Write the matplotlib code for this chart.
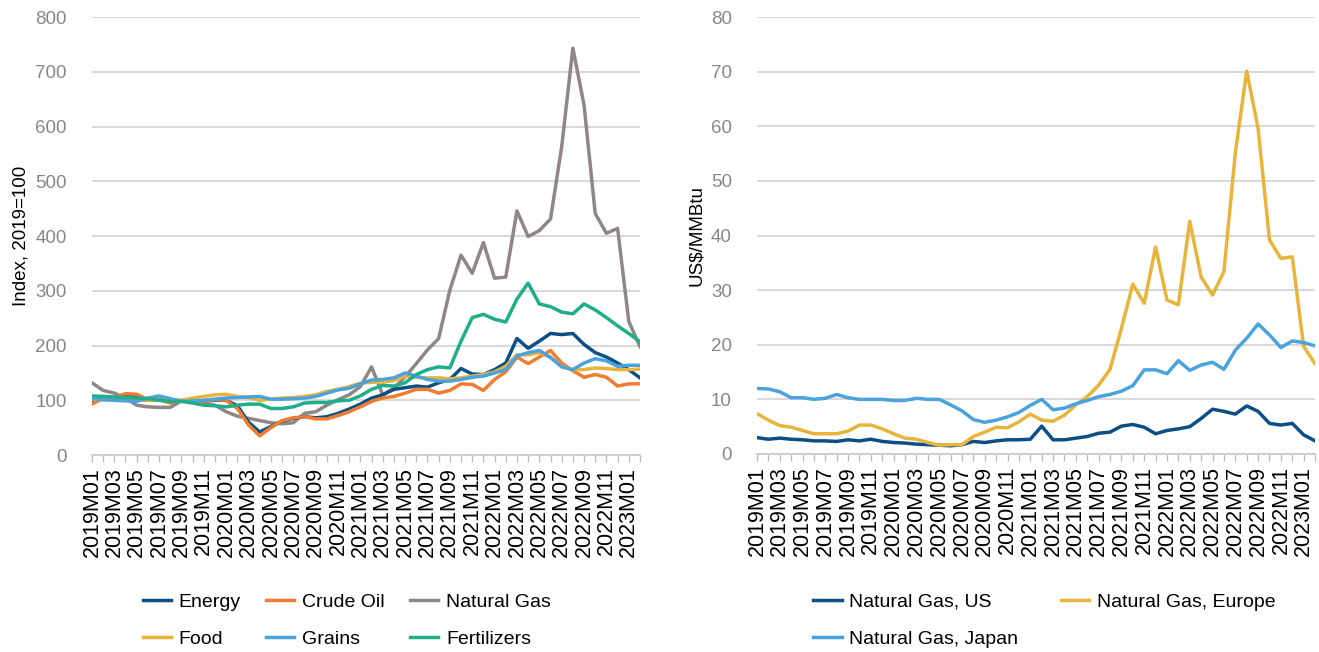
import numpy as np
import matplotlib
matplotlib.use("Agg")
import matplotlib.pyplot as plt

plt.rcParams['font.family'] = ['Liberation Sans', 'DejaVu Sans']

# monthly categories 2019M01 .. 2023M02
months = [f"{y}M{m:02d}" for y in range(2019, 2024) for m in range(1, 13)][:50]

# left panel: index, 2019=100
energy = [100, 103, 104, 107, 106, 102, 101, 97, 99, 98, 99, 100, 100, 90, 60, 42, 52, 62, 67, 70,
          68, 70, 76, 84, 93, 104, 110, 120, 123, 126, 124, 132, 138, 158, 148, 147, 156, 168, 213, 195,
          208, 222, 220, 222, 202, 187, 179, 168, 156, 141]
crude_oil = [93, 104, 105, 112, 111, 101, 101, 95, 100, 98, 98, 101, 100, 85, 55, 35, 50, 63, 68, 70,
             66, 66, 72, 79, 88, 98, 104, 107, 113, 120, 120, 113, 118, 130, 129, 118, 138, 152, 179, 167,
             179, 191, 168, 154, 142, 147, 142, 126, 130, 130]
natural_gas = [132, 118, 113, 104, 91, 88, 87, 87, 99, 98, 95, 91, 79, 71, 67, 63, 59, 57, 59, 76,
               79, 91, 101, 110, 125, 161, 110, 122, 143, 167, 192, 213, 301, 365, 332, 388, 323, 325, 446, 399,
               410, 431, 563, 743, 639, 441, 405, 414, 244, 198]
food = [102, 101, 100, 101, 100, 100, 100, 100, 100, 104, 107, 110, 111, 107, 105, 100, 102, 104, 105, 107,
        110, 116, 120, 125, 131, 133, 133, 136, 144, 142, 141, 141, 139, 141, 144, 147, 152, 162, 183, 183,
        187, 179, 162, 156, 156, 159, 158, 156, 156, 157]
grains = [103, 101, 100, 99, 98, 104, 108, 103, 98, 99, 100, 102, 104, 105, 106, 107, 102, 102, 103, 104,
          107, 113, 119, 122, 130, 137, 138, 141, 150, 144, 138, 135, 135, 138, 142, 144, 150, 156, 181, 187,
          191, 178, 161, 156, 168, 176, 172, 162, 164, 164]
fertilizers = [108, 107, 106, 105, 104, 103, 100, 98, 98, 95, 91, 90, 88, 91, 93, 93, 85, 85, 88, 95,
               96, 96, 99, 100, 108, 120, 127, 126, 132, 147, 156, 161, 159, 208, 251, 257, 248, 243, 285, 314,
               276, 271, 261, 258, 276, 265, 251, 236, 222, 207]

# right panel: US$/MMBtu
gas_us = [3.0, 2.7, 2.9, 2.7, 2.6, 2.4, 2.4, 2.3, 2.6, 2.4, 2.7, 2.3, 2.1, 2.0, 1.8, 1.7, 1.6, 1.5, 1.7, 2.3,
          2.1, 2.4, 2.6, 2.6, 2.7, 5.1, 2.6, 2.6, 2.9, 3.2, 3.8, 4.0, 5.1, 5.4, 4.9, 3.7, 4.3, 4.6, 5.0, 6.5,
          8.2, 7.8, 7.3, 8.8, 7.8, 5.6, 5.3, 5.6, 3.5, 2.4]
gas_europe = [7.4, 6.2, 5.2, 4.9, 4.3, 3.7, 3.7, 3.7, 4.2, 5.3, 5.3, 4.6, 3.7, 2.9, 2.7, 2.1, 1.6, 1.7, 1.7, 3.2,
              4.0, 4.9, 4.8, 5.9, 7.3, 6.2, 6.0, 7.1, 9.0, 10.5, 12.6, 15.5, 23.0, 31.1, 27.6, 37.9, 28.2, 27.3, 42.6, 32.4,
              29.1, 33.4, 55.1, 70.1, 59.6, 39.2, 35.8, 36.1, 19.7, 16.5]
gas_japan = [12.0, 11.9, 11.4, 10.3, 10.3, 10.0, 10.2, 10.9, 10.3, 10.0, 10.0, 10.0, 9.8, 9.8, 10.2, 10.0, 10.0, 9.0, 7.9, 6.3,
             5.8, 6.2, 6.8, 7.6, 8.9, 10.0, 8.1, 8.4, 9.2, 9.8, 10.5, 10.9, 11.5, 12.5, 15.4, 15.4, 14.7, 17.1, 15.3, 16.3,
             16.8, 15.5, 19.0, 21.2, 23.8, 21.8, 19.5, 20.7, 20.4, 19.8]

DARK = "#0b4f84"
ORANGE = "#ee7d31"
GREY = "#8e8785"
YELLOW = "#e8b43b"
LBLUE = "#4aa3dc"
GREEN = "#1fae8b"
TICKGREY = "#8c8683"

x = np.arange(len(months))

fig = plt.figure(figsize=(13.19, 6.52), dpi=100)
ax1 = fig.add_axes([0.0697, 0.3021, 0.4155, 0.6718])
ax2 = fig.add_axes([0.5739, 0.3037, 0.4231, 0.6702])


def style(ax, ymax, ystep, ylabel, ylpad):
    ax.set_xlim(0, len(months) - 1)
    ax.set_ylim(0, ymax)
    ax.set_yticks(np.arange(0, ymax + ystep, ystep))
    ax.grid(axis='y', color='#d6d6d6', lw=1.3)
    ax.set_axisbelow(True)
    for s in ['top', 'right', 'left']:
        ax.spines[s].set_visible(False)
    ax.spines['bottom'].set_color('#c8c8c8')
    ax.spines['bottom'].set_linewidth(1.2)
    ax.tick_params(axis='y', length=0, labelsize=13.5, labelcolor=TICKGREY, pad=18)
    ax.set_xticks(x, minor=True)
    ax.set_xticks(x[::2])
    ax.set_xticklabels(months[::2], rotation=90, fontsize=15.5)
    ax.tick_params(axis='x', which='both', length=5, color='#bdbdbd', width=1)
    ax.set_ylabel(ylabel, fontsize=13.5, labelpad=ylpad)


lw = 2.5
ax1.plot(x, energy, color=DARK, lw=lw, label="Energy", zorder=3)
ax1.plot(x, crude_oil, color=ORANGE, lw=lw, label="Crude Oil", zorder=3)
ax1.plot(x, natural_gas, color=GREY, lw=lw, label="Natural Gas", zorder=2)
ax1.plot(x, food, color=YELLOW, lw=lw, label="Food", zorder=3)
ax1.plot(x, grains, color=LBLUE, lw=lw, label="Grains", zorder=3)
ax1.plot(x, fertilizers, color=GREEN, lw=lw, label="Fertilizers", zorder=3)
style(ax1, 800, 100, "Index, 2019=100", 4)

ax2.plot(x, gas_us, color=DARK, lw=lw, label="Natural Gas, US", zorder=3)
ax2.plot(x, gas_europe, color=YELLOW, lw=lw, label="Natural Gas, Europe", zorder=3)
ax2.plot(x, gas_japan, color=LBLUE, lw=lw, label="Natural Gas, Japan", zorder=3)
style(ax2, 80, 10, "US$/MMBtu", 4)

# legends are filled column by column, so reorder for row-wise reading
h1, l1 = ax1.get_legend_handles_labels()
order1 = [0, 3, 1, 4, 2, 5]
fig.legend([h1[i] for i in order1], [l1[i] for i in order1], loc='upper center',
           bbox_to_anchor=(0.263, 0.102), ncol=3,
           frameon=False, fontsize=14, handlelength=1.45, handletextpad=0.4,
           columnspacing=1.3, labelspacing=1.0, borderaxespad=0)

h2, l2 = ax2.get_legend_handles_labels()
order2 = [0, 2, 1]
fig.legend([h2[i] for i in order2], [l2[i] for i in order2], loc='upper center',
           bbox_to_anchor=(0.792, 0.102), ncol=2,
           frameon=False, fontsize=14, handlelength=1.45, handletextpad=0.4,
           columnspacing=2.2, labelspacing=1.0, borderaxespad=0)

fig.savefig("out.png", dpi=100)
